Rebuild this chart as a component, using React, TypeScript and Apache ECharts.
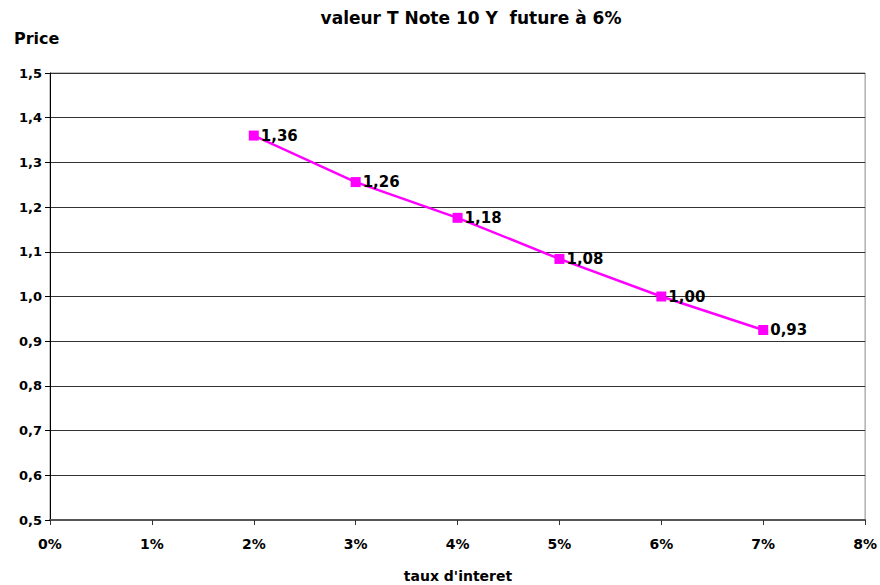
import React, { useEffect, useRef } from "react";
import * as echarts from "echarts";

const rates = [2, 3, 4, 5, 6, 7];
const prices = [1.36, 1.256, 1.176, 1.084, 1.0, 0.925];
const priceLabels = ["1,36", "1,26", "1,18", "1,08", "1,00", "0,93"];
const titleText = "valeur T Note 10 Y  future à 6%";
const yName = "Price";
const xName = "taux d'interet";

export default function App() {
  const ref = useRef<HTMLDivElement>(null);
  useEffect(() => {
    if (!ref.current) return;
    const chart = echarts.init(ref.current, null, { renderer: "svg" });
    const font = "DejaVu Sans, Verdana, sans-serif";
    chart.setOption({
      animation: false,
      backgroundColor: "#ffffff",
      textStyle: { fontFamily: font },
      grid: {
        left: 50,
        right: 12.5,
        top: 73,
        bottom: 65,
        show: true,
        borderColor: "#888",
        borderWidth: 1,
        containLabel: false,
      },
      graphic: [
        {
          type: "text",
          x: 471,
          y: 18,
          style: {
            text: titleText,
            font: `bold 17px ${font}`,
            fill: "#000",
            textAlign: "center",
            textVerticalAlign: "middle",
          },
        },
        {
          type: "text",
          x: 14,
          y: 38,
          style: {
            text: yName,
            font: `bold 16px ${font}`,
            fill: "#000",
            textAlign: "left",
            textVerticalAlign: "middle",
          },
        },
        {
          type: "text",
          x: 458,
          y: 576,
          style: {
            text: xName,
            font: `bold 14px ${font}`,
            fill: "#000",
            textAlign: "center",
            textVerticalAlign: "middle",
          },
        },
      ],
      xAxis: {
        type: "value",
        min: 0,
        max: 8,
        interval: 1,
        axisLine: { show: true, lineStyle: { color: "#555", width: 2 } },
        axisTick: { show: true, length: 5, lineStyle: { color: "#333" } },
        splitLine: { show: false },
        axisLabel: {
          formatter: "{value}%",
          fontSize: 14,
          fontWeight: "bold",
          color: "#000",
          margin: 17,
          fontFamily: font,
        },
      },
      yAxis: {
        type: "value",
        min: 0.5,
        max: 1.5,
        interval: 0.1,
        axisLine: { show: true, lineStyle: { color: "#000", width: 1 } },
        axisTick: { show: true, length: 5, lineStyle: { color: "#000" } },
        splitLine: { show: true, lineStyle: { color: "#333", width: 1 } },
        axisLabel: {
          formatter: (v: number) => v.toFixed(1).replace(".", ","),
          fontSize: 13,
          fontWeight: "bold",
          color: "#000",
          margin: 8,
          fontFamily: font,
        },
      },
      series: [
        {
          type: "line",
          data: rates.map((r, i) => [r, prices[i]]),
          symbol: "rect",
          symbolSize: 10,
          lineStyle: { color: "#ff00ff", width: 2.5 },
          itemStyle: { color: "#ff00ff" },
          label: {
            show: true,
            position: "right",
            distance: 2,
            formatter: (p: any) => priceLabels[p.dataIndex],
            fontSize: 15,
            fontWeight: "bold",
            color: "#000",
            fontFamily: font,
          },
        },
      ],
    });
    return () => chart.dispose();
  }, []);
  return (
    <div
      ref={ref}
      style={{ position: "fixed", left: 0, top: 0, width: 880, height: 585 }}
    />
  );
}
